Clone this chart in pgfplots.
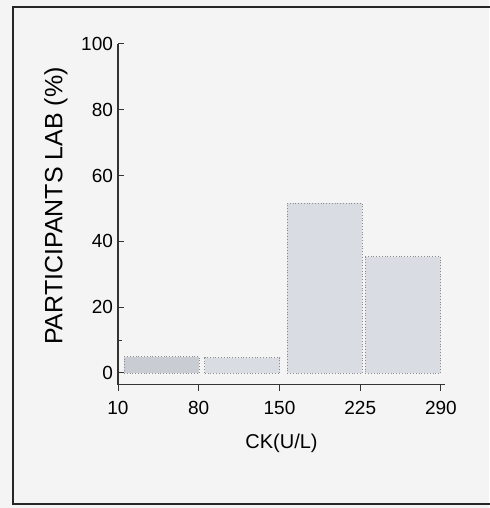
\documentclass[border=0pt]{standalone}
\usepackage{pgfplots}
\pgfplotsset{compat=1.18}
\usepackage{fontspec}
\setmainfont{Liberation Sans}
\definecolor{bgc}{HTML}{F4F4F4}
\definecolor{barA}{HTML}{C9CCD3}
\definecolor{barB}{HTML}{D9DCE3}
\definecolor{edgec}{HTML}{8C8C8C}
\begin{document}
\begin{tikzpicture}
\useasboundingbox (0,0) rectangle (244.5pt,254pt);
\fill[bgc] (0,0) rectangle (244.5pt,254pt);
\draw[line width=1pt, black!85] (250pt,250.5pt) -- (6.5pt,250.5pt) -- (6.5pt,2pt) -- (250pt,2pt);
\begin{axis}[
  at={(59pt,61.75pt)}, anchor=south west,
  scale only axis,
  width=163.5pt, height=170.25pt,
  xmin=0, xmax=4.05, ymin=-3.5, ymax=100,
  axis x line=bottom, axis y line=left,
  axis line style={line width=0.6pt, black!80, -},
  xtick={0,1,2,3,4},
  xticklabels={10,80,150,225,290},
  ytick={0,20,40,60,80,100},
  minor ytick={10},
  tick align=inside,
  major tick length=3pt, minor tick length=2pt,
  tick style={black!80, line width=0.5pt},
  /pgf/number format/assume math mode=true,
  tick label style={font=\fontsize{9.5}{10}\selectfont},
  xticklabel style={yshift=-2pt},
  yticklabel style={xshift=1pt},
  ylabel={PARTICIPANTS LAB (\%)},
  ylabel style={at={(axis description cs:-0.19,0.524)}, anchor=center, font=\fontsize{12.5}{13}\selectfont},
  xlabel={CK(U/L)},
  xlabel style={at={(axis description cs:0.5,-0.172)}, anchor=center, font=\fontsize{10}{11}\selectfont},
  ybar, bar width=0.93, bar shift=0pt,
  clip=false,
]
\addplot[fill=barA, draw=edgec, line width=0.4pt, densely dotted] coordinates {(0.54,4.9)};
\addplot[fill=barB, draw=edgec, line width=0.4pt, densely dotted] coordinates {(1.54,4.6) (2.56,51.6) (3.53,35.3)};
\end{axis}
\end{tikzpicture}
\end{document}
